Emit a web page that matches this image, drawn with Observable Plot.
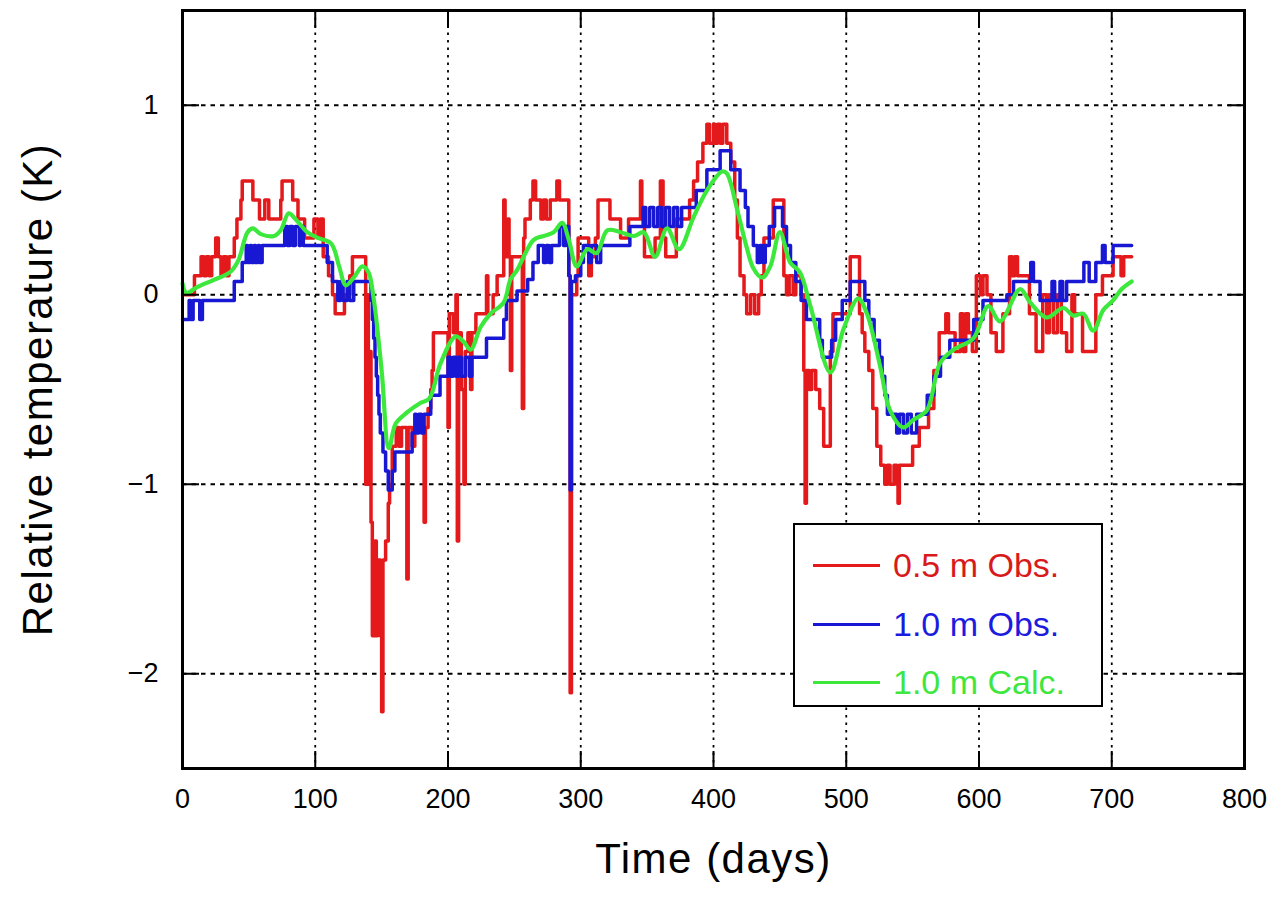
<!DOCTYPE html>
<html><head><meta charset="utf-8">
<script src="https://cdn.jsdelivr.net/npm/d3@7"></script>
<script src="https://cdn.jsdelivr.net/npm/@observablehq/plot@0.6"></script>
<style>
body{margin:0;background:#fff;}
#wrap{position:relative;width:1277px;height:904px;font-family:"Liberation Sans",Arial,sans-serif;}
[aria-label="x-axis tick label"],[aria-label="y-axis tick label"]{font-size:27px;}
[aria-label="x-axis label"]{font-size:42px;letter-spacing:1.5px;}
[aria-label="y-axis label"]{font-size:42px;letter-spacing:1.5px;}
#legend{position:absolute;left:793px;top:523px;width:306px;height:180px;border:2px solid #000;background:#fff;}
.row{position:absolute;left:0;height:40px;}
.row .sw{position:absolute;left:18px;top:19px;width:67px;height:3px;}
.row .lb{position:absolute;left:98px;top:0;font-size:34px;line-height:40px;white-space:nowrap;}
</style></head><body><div id="wrap"></div>
<script>
const xTicks=[0,100,200,300,400,500,600,700,800];
const yTicks=[-2,-1,0,1];
const seriesNames=["0.5 m Obs.","1.0 m Obs.","1.0 m Calc."];
const seriesColors=["#e3191c","#1818d4","#3be83b"];
const legendTextColors=["#d91a1a","#1c1ce0","#3ee63e"];

const redDays=[0,9,14,16,18,20,22,25,27,29,31,33,35,39,41,44,45,53,58,62,65,74,75,83,87,92,99,102,104,106,110,113,115,122,126,128,138,139,140,141,142,143,145,146,147,149,150,151,153,155,156,158,161,163,165,169,170,173,175,182,183,185,187,188,189,200,201,204,206,207,208,210,212,213,215,217,218,221,229,230,234,237,242,243,245,246,247,248,256,257,258,262,264,266,270,272,274,277,282,284,291,292,293,297,298,306,308,311,313,322,330,336,345,346,348,356,360,362,364,372,382,385,388,392,395,397,400,401,403,405,407,410,413,416,418,420,423,425,428,431,434,436,438,445,453,455,457,460,462,466,468,469,470,472,474,477,480,483,488,490,503,510,512,514,517,520,523,526,529,531,533,536,538,539,540,550,555,562,566,570,575,577,582,586,588,590,592,595,598,601,603,606,609,613,618,623,625,627,629,638,643,648,651,653,656,659,662,666,670,672,678,688,693,701,707,709,715];
const redValues=[0.0,0.1,0.2,0.1,0.2,0.1,0.2,0.3,0.2,0.1,0.2,0.1,0.2,0.3,0.4,0.5,0.6,0.5,0.4,0.5,0.4,0.5,0.6,0.5,0.4,0.3,0.4,0.3,0.4,0.2,0.1,0.0,-0.1,0.0,0.1,0.2,-1.0,0.0,-1.0,-0.3,-1.2,-1.8,-1.3,-1.8,-1.4,-1.8,-2.2,-1.4,-1.3,-1.1,-1.0,-0.8,-0.7,-0.8,-0.7,-1.5,-0.7,-0.8,-0.7,-1.2,-0.7,-0.6,-0.5,-0.4,-0.2,-0.7,-0.1,-0.2,0.0,-1.3,-0.2,-0.5,-1.0,-0.3,-0.2,-0.5,-0.2,-0.1,0.1,-0.1,0.0,0.1,0.5,0.2,0.4,0.2,-0.4,0.2,-0.6,0.3,0.4,0.5,0.6,0.5,0.4,0.5,0.4,0.5,0.6,0.5,0.1,-2.1,0.0,0.1,0.3,0.1,0.2,0.3,0.5,0.4,0.3,0.4,0.6,0.4,0.2,0.3,0.6,0.3,0.2,0.4,0.5,0.6,0.7,0.8,0.9,0.8,0.9,0.8,0.9,0.8,0.9,0.8,0.7,0.5,0.3,0.1,0.0,-0.1,0.0,-0.1,0.0,0.1,0.3,0.5,0.1,0.0,0.1,0.0,0.1,0.0,-0.4,-1.1,-0.4,-0.5,-0.4,-0.5,-0.6,-0.8,-0.3,-0.1,0.2,-0.1,-0.2,-0.3,-0.4,-0.6,-0.8,-0.9,-1.0,-0.9,-1.0,-0.9,-1.0,-1.1,-0.9,-0.8,-0.7,-0.6,-0.4,-0.2,-0.1,-0.2,-0.3,-0.1,-0.3,-0.1,-0.2,-0.3,0.1,0.0,0.1,0.0,-0.2,-0.3,-0.1,0.2,0.1,0.2,0.1,-0.1,-0.3,0.0,-0.2,0.0,-0.2,0.0,-0.2,-0.3,0.0,-0.1,-0.3,0.0,0.1,0.2,0.1,0.2,0.2];

const blueDays=[0,5,6,8,13,15,39,45,48,49,51,52,54,55,57,58,60,77,79,81,83,85,88,89,91,109,113,117,119,121,124,126,129,142,143,144,145,146,147,148,149,151,153,155,158,160,173,175,176,178,180,182,187,194,200,202,204,206,208,210,213,216,218,229,242,244,252,260,264,268,272,274,276,278,284,287,289,291,292,293,296,300,302,306,308,312,315,337,347,349,352,355,358,361,364,367,370,373,376,387,395,405,413,420,424,426,430,433,435,437,439,442,446,452,455,458,462,466,470,480,482,489,492,497,503,514,517,521,525,527,529,531,538,540,543,546,549,553,561,566,571,578,596,603,621,626,639,641,646,655,657,661,663,666,679,683,688,693,695,701,715];
const blueValues=[-0.13,-0.03,-0.13,-0.03,-0.13,-0.03,0.07,0.17,0.26,0.17,0.26,0.17,0.26,0.17,0.26,0.17,0.26,0.36,0.26,0.36,0.26,0.36,0.26,0.36,0.26,0.17,0.07,-0.03,0.07,-0.03,0.07,-0.03,0.07,-0.03,-0.13,-0.23,-0.33,-0.43,-0.53,-0.63,-0.73,-0.83,-0.93,-1.03,-0.93,-0.83,-0.73,-0.63,-0.73,-0.63,-0.73,-0.63,-0.53,-0.43,-0.33,-0.43,-0.33,-0.43,-0.33,-0.43,-0.33,-0.43,-0.33,-0.23,-0.13,-0.03,0.02,0.08,0.17,0.26,0.17,0.26,0.17,0.26,0.36,0.26,0.36,0.1,-1.03,0.07,0.1,0.17,0.26,0.17,0.26,0.17,0.26,0.36,0.46,0.36,0.46,0.36,0.46,0.36,0.46,0.36,0.46,0.36,0.46,0.55,0.66,0.76,0.66,0.55,0.46,0.36,0.26,0.17,0.26,0.17,0.26,0.36,0.46,0.36,0.26,0.17,0.07,-0.03,-0.13,-0.24,-0.33,-0.24,-0.13,-0.03,0.07,-0.03,-0.13,-0.24,-0.33,-0.43,-0.53,-0.63,-0.73,-0.63,-0.73,-0.63,-0.73,-0.63,-0.53,-0.43,-0.33,-0.24,-0.13,-0.03,0.0,0.07,0.17,0.07,-0.03,0.07,-0.03,0.07,-0.03,0.07,0.17,0.07,0.17,0.26,0.17,0.26,0.26];

const greenDays=[0,3,11,24,36,42,49,53,59,69,74,80,85,94,102,112,118,123,129,135.5,140,144,150,155.5,160.6,169.4,179.5,185.7,194.5,205.8,212,217,224.6,232,242,247,252,264.5,272,279.6,286,291,297,305,312,320,330,340,347.5,356,365,374,385,395,406.5,410,417.8,425,430,436.6,442.8,450,457.8,465,473,488,498,509,515.6,525.6,533,543,550.6,560.7,570.7,580.7,595.8,607,615.8,631,638.5,651,663.5,671,678.5,686,693.6,701,707.5,715];
const greenValues=[0.06,0.01,0.04,0.08,0.12,0.18,0.33,0.35,0.32,0.31,0.34,0.43,0.40,0.33,0.30,0.27,0.15,0.05,0.09,0.15,0.12,-0.02,-0.4,-0.81,-0.68,-0.62,-0.57,-0.55,-0.36,-0.22,-0.25,-0.29,-0.17,-0.1,-0.04,0.08,0.13,0.29,0.31,0.33,0.38,0.29,0.15,0.24,0.22,0.34,0.33,0.31,0.33,0.2,0.35,0.24,0.41,0.55,0.65,0.64,0.45,0.25,0.14,0.09,0.15,0.33,0.17,0.12,-0.06,-0.41,-0.18,-0.02,-0.1,-0.38,-0.61,-0.7,-0.66,-0.61,-0.36,-0.29,-0.23,-0.06,-0.14,0.03,-0.04,-0.12,-0.07,-0.11,-0.1,-0.19,-0.08,-0.03,0.03,0.07];

const toRows=(ds,vs)=>ds.map((d,i)=>({day:d,value:vs[i]}));
const red=toRows(redDays,redValues), blue=toRows(blueDays,blueValues), green=toRows(greenDays,greenValues);
const intFmt=d=>d<0?"\u2212"+Math.abs(d):String(d);

const chart=Plot.plot({
  width:1277,height:904,marginLeft:182,marginRight:33,marginTop:10,marginBottom:136,
  style:{fontFamily:"Liberation Sans, Arial, sans-serif",background:"white",color:"black"},
  x:{domain:[0,800]},
  y:{domain:[-2.5,1.5]},
  marks:[
    Plot.gridX(xTicks,{stroke:"black",strokeOpacity:1,strokeWidth:1.8,strokeDasharray:"2.5,5"}),
    Plot.gridY(yTicks,{stroke:"black",strokeOpacity:1,strokeWidth:1.8,strokeDasharray:"4.5,5"}),
    Plot.line(red,{x:"day",y:"value",curve:"step-after",stroke:seriesColors[0],strokeWidth:3.5}),
    Plot.line(blue,{x:"day",y:"value",curve:"step-after",stroke:seriesColors[1],strokeWidth:3.5}),
    Plot.line(green,{x:"day",y:"value",curve:"catmull-rom",stroke:seriesColors[2],strokeWidth:4.2}),
    Plot.frame({stroke:"black",strokeWidth:3}),
    Plot.axisX(xTicks,{anchor:"bottom",tickSize:-17,tickPadding:37,strokeWidth:2,tickFormat:intFmt,label:"Time (days)",labelAnchor:"center",labelOffset:104,labelArrow:"none"}),
    Plot.axisX(xTicks,{anchor:"top",tickSize:-17,strokeWidth:2,tickFormat:()=>"",label:null}),
    Plot.axisY(yTicks,{anchor:"left",tickSize:-17,tickPadding:41,strokeWidth:2,tickFormat:intFmt,label:"Relative temperature (K)",labelAnchor:"center",labelOffset:160,labelArrow:"none"}),
    Plot.axisY(yTicks,{anchor:"right",tickSize:-17,strokeWidth:2,tickFormat:()=>"",label:null})
  ]
});
const wrap=document.getElementById("wrap");
wrap.appendChild(chart);
const lg=document.createElement("div");lg.id="legend";
seriesNames.forEach((n,i)=>{
  const r=document.createElement("div");r.className="row";r.style.top=(20+i*58.5)+"px";r.style.width="100%";
  const s=document.createElement("div");s.className="sw";s.style.background=seriesColors[i];
  const t=document.createElement("div");t.className="lb";t.style.color=legendTextColors[i];t.textContent=n;
  r.appendChild(s);r.appendChild(t);lg.appendChild(r);
});
wrap.appendChild(lg);
</script></body></html>
